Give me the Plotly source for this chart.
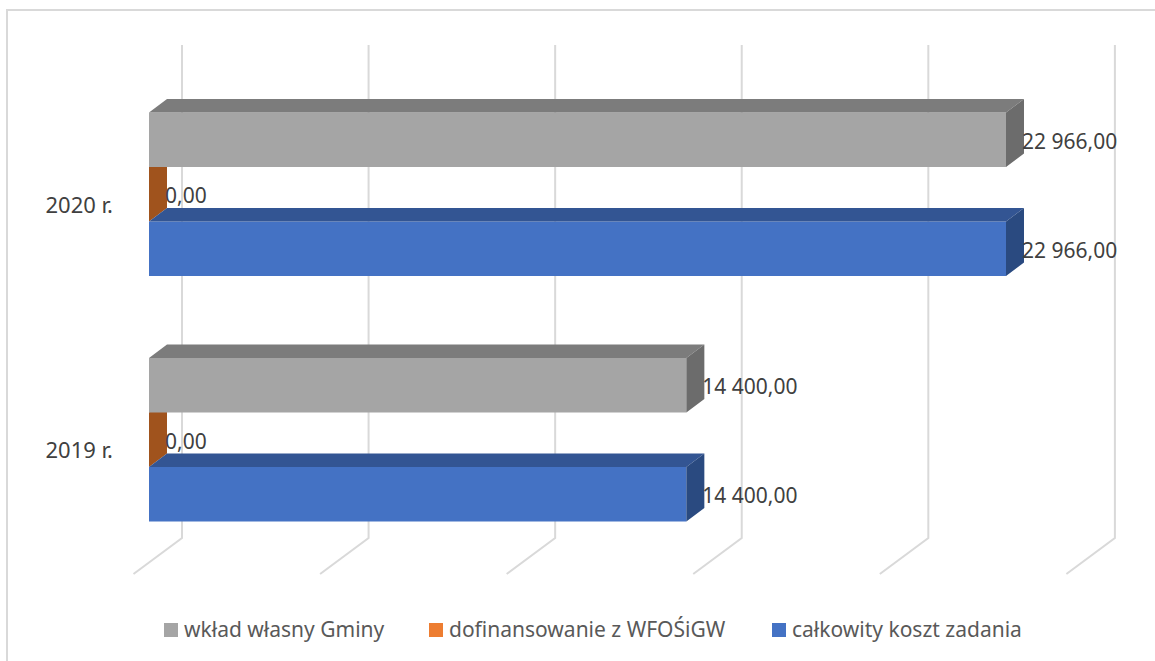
import plotly.graph_objects as go

categories = ["2019 r.", "2020 r."]
wklad_wlasny = [14400.00, 22966.00]
dofinansowanie = [0.00, 0.00]
calkowity_koszt = [14400.00, 22966.00]
grid_values = [0, 5000, 10000, 15000, 20000, 25000]
legend_names = ["wkład własny Gminy", "dofinansowanie z WFOŚiGW", "całkowity koszt zadania"]
legend_colors = ["#a5a5a5", "#ed7d31", "#4472c4"]
legend_left_px = [164, 429, 772]

PX = 22966 / 857          # axis units per pixel, x
PY = 1 / 245.5            # axis units per pixel, y
X0_PX, Y0_PX = 149, 439.75
DOM_PX = 114
W, H = 1155, 661
DX, DY = 18 * PX, 13.5 * PY
BAR_H = 54.5 * PY
FONT = "Noto Sans"
TXT = "#404040"

xr = [(DOM_PX - X0_PX) * PX, (W - X0_PX) * PX]
yr = [(Y0_PX - H) * PY, Y0_PX * PY]
ypos = list(range(len(categories)))


def fmt(v):
    return f"{v:,.2f}".replace(",", " ").replace(".", ",")


def faces(values, shift):
    top, side = ([], []), ([], [])
    for i, v in enumerate(values):
        hi = i + shift + BAR_H / 2
        lo = i + shift - BAR_H / 2
        top[0].extend([0, v, v + DX, DX, 0, None])
        top[1].extend([hi, hi, hi + DY, hi + DY, hi, None])
        side[0].extend([v, v + DX, v + DX, v, v, None])
        side[1].extend([hi, hi + DY, lo + DY, lo, hi, None])
    return top, side


def poly(xy, color, axes=("x2", "y2")):
    return go.Scatter(x=xy[0], y=xy[1], mode="lines", fill="toself", fillcolor=color,
                      line=dict(width=0), hoverinfo="skip", showlegend=False,
                      xaxis=axes[0], yaxis=axes[1])


fig = go.Figure()

# back grid with its floor feet
gx, gy = [], []
for v in grid_values:
    gx += [v + 33 * PX, v + 33 * PX, v - 15.5 * PX, None]
    gy += [(Y0_PX - 45) * PY, (Y0_PX - 538) * PY, (Y0_PX - 574) * PY, None]
fig.add_trace(go.Scatter(x=gx, y=gy, mode="lines", line=dict(color="#d9d9d9", width=2),
                         hoverinfo="skip", showlegend=False))

# zero-length orange bar: only its end face shows, behind the others
_, o_side = faces(dofinansowanie, 0)
fig.add_trace(poly(o_side, "#a0531d", ("x", "y")))

# front faces
fig.add_trace(go.Bar(y=ypos, x=calkowity_koszt, orientation="h", name=legend_names[2],
                     marker=dict(color=legend_colors[2], line_width=0), xaxis="x2", yaxis="y2", showlegend=False))
fig.add_trace(go.Bar(y=ypos, x=dofinansowanie, orientation="h", name=legend_names[1],
                     marker=dict(color=legend_colors[1], line_width=0), xaxis="x2", yaxis="y2", showlegend=False))
fig.add_trace(go.Bar(y=ypos, x=wklad_wlasny, orientation="h", name=legend_names[0],
                     marker=dict(color=legend_colors[0], line_width=0), xaxis="x2", yaxis="y2", showlegend=False))

# depth faces
b_top, b_side = faces(calkowity_koszt, -BAR_H)
g_top, g_side = faces(wklad_wlasny, BAR_H)
fig.add_trace(poly(b_top, "#335593"))
fig.add_trace(poly(b_side, "#2a4a80"))
fig.add_trace(poly(g_top, "#7c7c7c"))
fig.add_trace(poly(g_side, "#6c6c6c"))

# data labels
LABEL_DX = 16 * PX
for vals, shift in ((calkowity_koszt, -BAR_H), (dofinansowanie, 0), (wklad_wlasny, BAR_H)):
    fig.add_trace(go.Scatter(
        x=[v + LABEL_DX for v in vals], y=[i + shift - 3.5 * PY for i in ypos],
        text=[fmt(v) for v in vals], mode="text", textposition="middle right",
        textfont=dict(family=FONT, size=21, color=TXT),
        hoverinfo="skip", showlegend=False, xaxis="x2", yaxis="y2"))

# legend row
shapes = [dict(type="rect", xref="paper", yref="paper", x0=7 / W, x1=1.05, y0=-0.05, y1=1 - 10 / H,
               line=dict(color="#d9d9d9", width=2), layer="below")]
annotations = []
for name, color, left in zip(legend_names, legend_colors, legend_left_px):
    shapes.append(dict(type="rect", xref="paper", yref="paper", x0=left / W, x1=(left + 14) / W,
                       y0=1 - 637 / H, y1=1 - 623 / H, fillcolor=color, line_width=0))
    annotations.append(dict(text=name, xref="paper", yref="paper", x=(left + 19) / W, y=1 - 629 / H,
                            xanchor="left", yanchor="middle", showarrow=False, borderpad=0,
                            font=dict(family=FONT, size=21, color="#595959")))

dom = [DOM_PX / W, 1]
fig.update_layout(
    width=W, height=H, margin=dict(l=0, r=0, t=0, b=0, pad=0),
    paper_bgcolor="white", plot_bgcolor="rgba(0,0,0,0)",
    barmode="group", bargap=0.334, bargroupgap=0, showlegend=False,
    font=dict(family=FONT, size=21, color=TXT),
    xaxis=dict(domain=dom, range=xr, visible=False, fixedrange=True),
    yaxis=dict(range=yr, tickmode="array", tickvals=[i - 11 * PY for i in ypos], ticktext=categories,
               showgrid=False, zeroline=False, showline=False, ticks="",
               tickfont=dict(family=FONT, size=22, color=TXT), fixedrange=True),
    xaxis2=dict(domain=dom, range=xr, visible=False, overlaying="x", fixedrange=True),
    yaxis2=dict(range=yr, visible=False, overlaying="y", fixedrange=True),
    shapes=shapes, annotations=annotations,
)

fig.write_html("out.html", config={"displayModeBar": False},
               post_script="document.body.style.margin='0';document.body.style.overflow='hidden';")
